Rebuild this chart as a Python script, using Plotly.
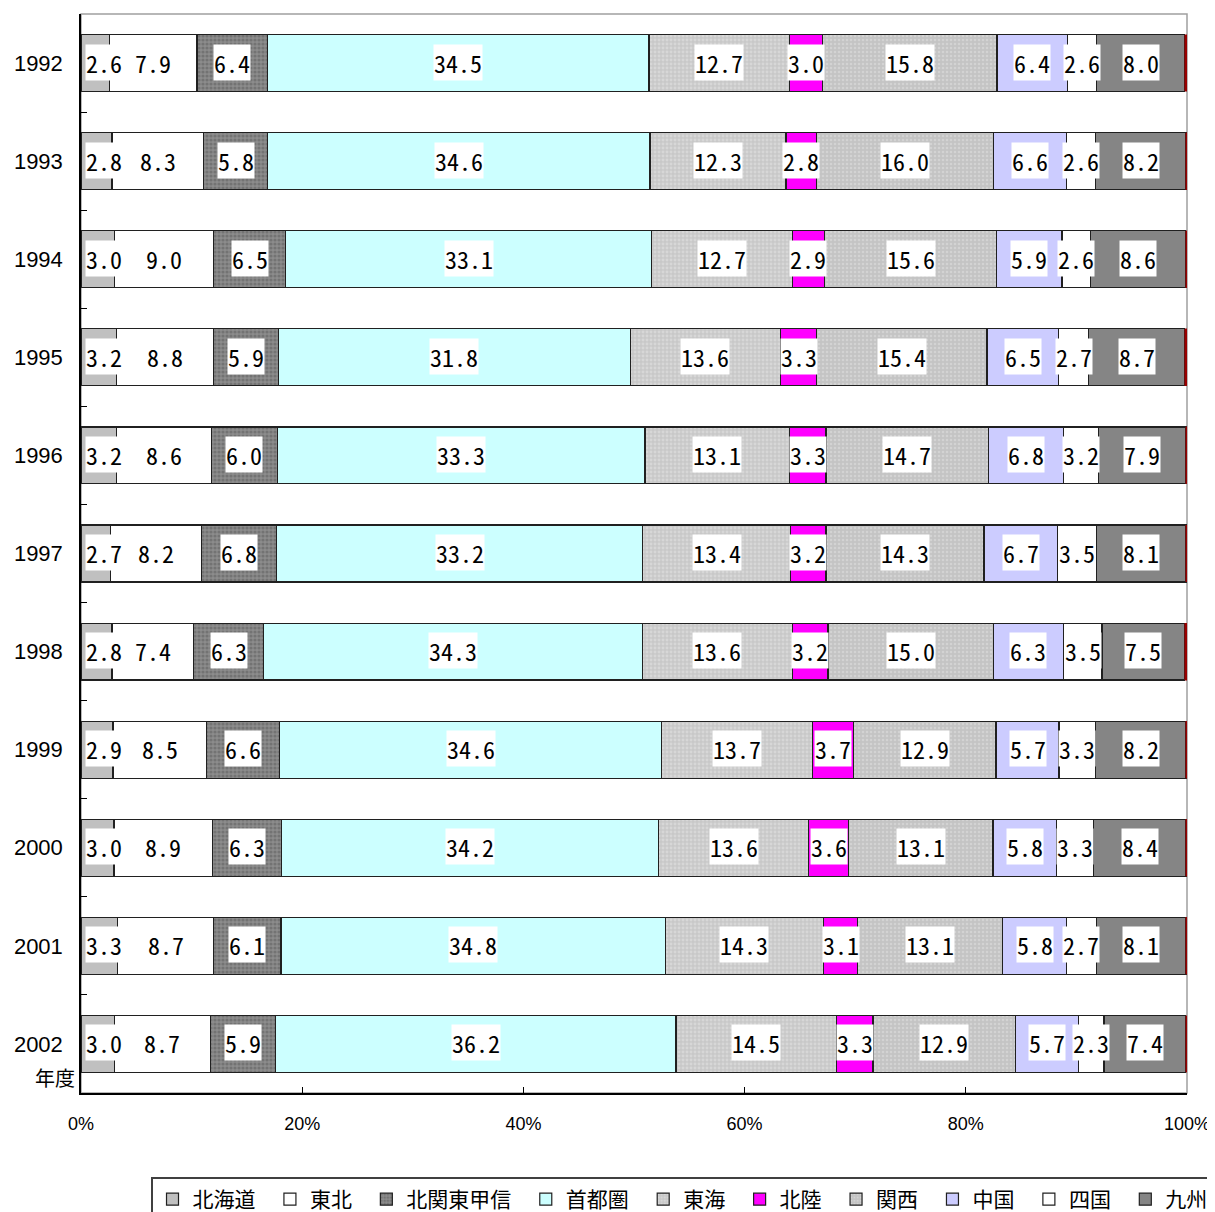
import plotly.graph_objects as go

years = ["1992", "1993", "1994", "1995", "1996", "1997", "1998", "1999", "2000", "2001", "2002"]
regions = ["北海道", "東北", "北関東甲信", "首都圏", "東海", "北陸", "関西", "中国", "四国", "九州"]
x_ticks = [0, 20, 40, 60, 80, 100]

hokkaido = [2.6, 2.8, 3.0, 3.2, 3.2, 2.7, 2.8, 2.9, 3.0, 3.3, 3.0]
tohoku = [7.9, 8.3, 9.0, 8.8, 8.6, 8.2, 7.4, 8.5, 8.9, 8.7, 8.7]
kitakanto = [6.4, 5.8, 6.5, 5.9, 6.0, 6.8, 6.3, 6.6, 6.3, 6.1, 5.9]
shutoken = [34.5, 34.6, 33.1, 31.8, 33.3, 33.2, 34.3, 34.6, 34.2, 34.8, 36.2]
tokai = [12.7, 12.3, 12.7, 13.6, 13.1, 13.4, 13.6, 13.7, 13.6, 14.3, 14.5]
hokuriku = [3.0, 2.8, 2.9, 3.3, 3.3, 3.2, 3.2, 3.7, 3.6, 3.1, 3.3]
kansai = [15.8, 16.0, 15.6, 15.4, 14.7, 14.3, 15.0, 12.9, 13.1, 13.1, 12.9]
chugoku = [6.4, 6.6, 5.9, 6.5, 6.8, 6.7, 6.3, 5.7, 5.8, 5.8, 5.7]
shikoku = [2.6, 2.6, 2.6, 2.7, 3.2, 3.5, 3.5, 3.3, 3.3, 2.7, 2.3]
kyushu = [8.0, 8.2, 8.6, 8.7, 7.9, 8.1, 7.5, 8.2, 8.4, 8.1, 7.4]
okinawa = [0.2, 0.1, 0.1, 0.2, 0.1, 0.1, 0.2, 0.1, 0.1, 0.1, 0.1]

series = [hokkaido, tohoku, kitakanto, shutoken, tokai, hokuriku, kansai, chugoku, shikoku, kyushu]

styles = [
    dict(color="#C0C0C0"),
    dict(color="#FFFFFF"),
    dict(color="#808080", pattern=dict(shape=".", bgcolor="#8C8C8C", fgcolor="#5A5A5A", size=4, solidity=0.5)),
    dict(color="#CCFFFF"),
    dict(color="#C8C8C8", pattern=dict(shape=".", bgcolor="#C8C8C8", fgcolor="#E6E6E6", size=4, solidity=0.4)),
    dict(color="#FF00FF"),
    dict(color="#C8C8C8", pattern=dict(shape=".", bgcolor="#C4C4C4", fgcolor="#E2E2E2", size=4, solidity=0.3)),
    dict(color="#CCCCFF"),
    dict(color="#FFFFFF"),
    dict(color="#858585"),
]

fig = go.Figure()
for name, vals, st in zip(regions, series, styles):
    fig.add_trace(go.Bar(
        y=years, x=vals, name=name + "\u00a0\u00a0", orientation="h",
        marker=dict(line=dict(color="#202020", width=1.2), **st),
    ))
fig.add_trace(go.Bar(
    y=years, x=okinawa, name="沖縄", orientation="h", showlegend=False,
    marker=dict(color="#990000", line=dict(color="#990000", width=0.5)),
))

# data labels with white boxes; y given as category index
label_font = dict(family="Noto Sans Mono CJK JP, Liberation Mono, monospace", size=24, color="black")
all_series = series + [okinawa]
annotations = []
for i, yr in enumerate(years):
    total = sum(s[i] for s in all_series)
    cum = 0.0
    for k, s in enumerate(series):
        v = s[i]
        start = cum / total * 100
        cum += v
        end = cum / total * 100
        if k == 0:
            annotations.append(dict(x=start, y=i, xref="x", yref="y", text=f"{v:.1f}",
                                    showarrow=False, xanchor="left", xshift=4, yshift=1,
                                    bgcolor="white", borderpad=0, font=label_font))
        else:
            annotations.append(dict(x=(start + end) / 2, y=i, xref="x", yref="y", text=f"{v:.1f}",
                                    showarrow=False, xanchor="center", yshift=1,
                                    bgcolor="white", borderpad=0, font=label_font))

annotations.append(dict(x=-0.004, y=len(years) - 1, xref="paper", yref="y", yshift=-34, text="年度",
                        showarrow=False, xanchor="right",
                        font=dict(family="Noto Sans CJK JP", size=20, color="black")))

fig.update_layout(
    barmode="stack",
    barnorm="percent",
    bargap=0.42,
    width=1215, height=1212,
    margin=dict(l=73, r=36, t=6, b=127, pad=0, autoexpand=False),
    plot_bgcolor="white",
    paper_bgcolor="white",
    annotations=annotations,
    shapes=[dict(type="rect", xref="paper", yref="paper", x0=0, x1=1, y0=0, y1=1,
                 line=dict(color="#A0A0A0", width=1.5), layer="below")],
    legend=dict(orientation="h", x=0.0633, y=-0.0783, xanchor="left", yanchor="top",
                bordercolor="#404040", borderwidth=1.5, bgcolor="white",
                font=dict(family="Noto Sans CJK JP", size=21, color="black"),
                traceorder="normal"),
    showlegend=True,
)
fig.update_yaxes(
    type="category", autorange="reversed",
    showline=True, linecolor="black", linewidth=1.5,
    ticks="inside", tickson="boundaries", ticklen=6, tickcolor="black",
    ticklabelstandoff=12,
    tickfont=dict(family="Liberation Sans, Arial", size=22, color="black"),
    showgrid=False,
)
fig.update_xaxes(
    range=[0, 100], tickmode="array", tickvals=x_ticks, ticktext=[f"{t}%" for t in x_ticks],
    showline=True, linecolor="black", linewidth=1.5,
    ticks="inside", ticklen=6, tickcolor="black",
    ticklabelstandoff=14,
    tickfont=dict(family="Liberation Sans, Arial", size=18, color="black"),
    showgrid=False, zeroline=False,
)

fig.write_html("out.html")
